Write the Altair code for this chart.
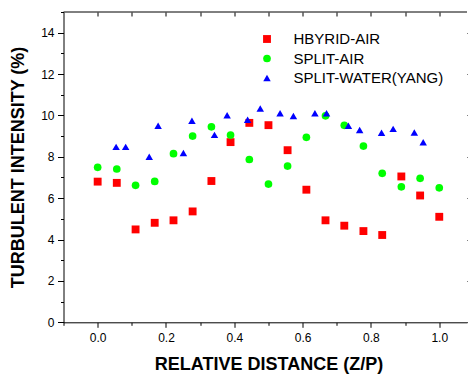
import altair as alt
import pandas as pd

# ---- data ----
series_names = ["HBYRID-AIR", "SPLIT-AIR", "SPLIT-WATER(YANG)"]

x_hybrid = [0.0, 0.056, 0.111, 0.167, 0.222, 0.278, 0.333, 0.389, 0.444, 0.5,
            0.556, 0.611, 0.667, 0.722, 0.778, 0.833, 0.889, 0.944, 1.0]
y_hybrid = [6.8, 6.74, 4.49, 4.81, 4.93, 5.36, 6.83, 8.71, 9.64, 9.53,
            8.32, 6.41, 4.93, 4.67, 4.41, 4.22, 7.05, 6.13, 5.10]

x_split_air = [0.0, 0.056, 0.111, 0.167, 0.222, 0.278, 0.333, 0.389, 0.444, 0.5,
               0.556, 0.611, 0.667, 0.722, 0.778, 0.833, 0.889, 0.944, 1.0]
y_split_air = [7.49, 7.41, 6.62, 6.81, 8.15, 9.0, 9.45, 9.05, 7.87, 6.68,
               7.55, 8.94, 9.98, 9.52, 8.52, 7.20, 6.55, 6.96, 6.50]

x_split_water = [0.054, 0.082, 0.151, 0.177, 0.251, 0.276, 0.342, 0.379, 0.439, 0.476,
                 0.534, 0.573, 0.636, 0.670, 0.734, 0.767, 0.831, 0.865, 0.927, 0.953]
y_split_water = [8.48, 8.48, 8.0, 9.50, 8.18, 9.74, 9.06, 10.01, 9.79, 10.34,
                 10.10, 9.97, 10.11, 10.11, 9.50, 9.30, 9.16, 9.35, 9.18, 8.70]

x_tick_values = [-0.1, 0.0, 0.1, 0.2, 0.3, 0.4, 0.5, 0.6, 0.7, 0.8, 0.9, 1.0]
y_tick_values = list(range(0, 16))
y_major_values = [0, 2, 4, 6, 8, 10, 12, 14]

rows = []
for name, xs, ys in [(series_names[0], x_hybrid, y_hybrid),
                     (series_names[1], x_split_air, y_split_air),
                     (series_names[2], x_split_water, y_split_water)]:
    for xv, yv in zip(xs, ys):
        rows.append({"x": xv, "y": yv, "series": name})
df = pd.DataFrame(rows)

W = 403.5
H = 310.3
FONT = "Liberation Sans"

xscale = alt.Scale(domain=[-0.1, 1.0812], nice=False, zero=False)
yscale = alt.Scale(domain=[0, 15], nice=False, zero=False)

x_major_test = "abs(datum.value*5 - round(datum.value*5)) < 0.001"

legend_opts = dict(title=None, orient="none", legendX=196, legendY=19.5,
                   labelFont=FONT, labelFontSize=15, labelColor="#000",
                   symbolSize=90, rowPadding=3.5, labelOffset=19,
                   padding=0, symbolStrokeWidth=0)

points = alt.Chart(df).mark_point(filled=True, opacity=1, strokeWidth=0).encode(
    x=alt.X("x:Q", scale=xscale, axis=alt.Axis(
        orient="bottom", values=x_tick_values,
        labelExpr=f"({x_major_test}) && datum.value > -0.05 ? format(datum.value, '.1f') : ''",
        tickSize={"condition": {"test": x_major_test, "value": 5}, "value": 3},
        labelPadding=5, labelFontSize=12, labelFont=FONT, labelColor="#000",
        title="RELATIVE DISTANCE (Z/P)", titleFont=FONT, titleFontSize=18,
        titleFontWeight="bold", titleColor="#000", titleX=205, titleY=42,
        titleBaseline="middle", titleAlign="center",
        grid=False, domainColor="#000", tickColor="#000", labelFlush=False,
    )),
    y=alt.Y("y:Q", scale=yscale, axis=alt.Axis(
        orient="left", values=y_tick_values,
        labelExpr="datum.value % 2 == 0 ? datum.value : ''",
        tickSize={"condition": {"test": "datum.value % 2 == 0", "value": 6}, "value": 3},
        labelPadding=3.5, labelFontSize=12, labelFont=FONT, labelColor="#000",
        title="TURBULENT INTENSITY (%)", titleFont=FONT, titleFontSize=18,
        titleFontWeight="bold", titleColor="#000", titleAngle=270,
        titleX=-45.5, titleY=155, titleBaseline="middle", titleAlign="center",
        grid=False, domainColor="#000", tickColor="#000", labelFlush=False,
    )),
    color=alt.Color("series:N", scale=alt.Scale(domain=series_names,
                    range=["#FF0000", "#00FF00", "#0000FF"]),
                    legend=alt.Legend(**legend_opts)),
    shape=alt.Shape("series:N", scale=alt.Scale(domain=series_names,
                    range=["square", "circle", "triangle-up"]),
                    legend=alt.Legend(**legend_opts)),
    size=alt.Size("series:N", scale=alt.Scale(domain=series_names, range=[62, 56, 115]),
                  legend=None),
    order=alt.Order("series:N"),
)

# invisible layer carrying the top and right axes (tick marks only)
frame_axes = alt.Chart(df).mark_point(opacity=0).encode(
    x=alt.X("x:Q", scale=xscale, axis=alt.Axis(
        orient="top", values=x_tick_values[1:], labels=False, domain=False,
        tickSize=4, offset=-4, title=None, grid=False, tickColor="#000")),
    y=alt.Y("y:Q", scale=yscale, axis=alt.Axis(
        orient="right", values=y_major_values, labels=False, domain=False,
        tickSize=6, title=None, grid=False, tickColor="#000")),
)

top_line = alt.Chart(pd.DataFrame({"a": [0]})).mark_rule(color="#000", strokeWidth=1).encode(
    x=alt.value(0), x2=alt.value(W), y=alt.value(0)
)

chart = alt.layer(frame_axes, points, top_line).resolve_axis(
    x="independent", y="independent"
).properties(
    width=W, height=H,
    autosize=alt.AutoSizeParams(type="none"),
    padding={"left": 63.5, "top": 12, "right": 1, "bottom": 51.7},
    background="white",
).configure_view(stroke=None)

chart.save("out.html", embed_options={"renderer": "svg", "actions": False})
